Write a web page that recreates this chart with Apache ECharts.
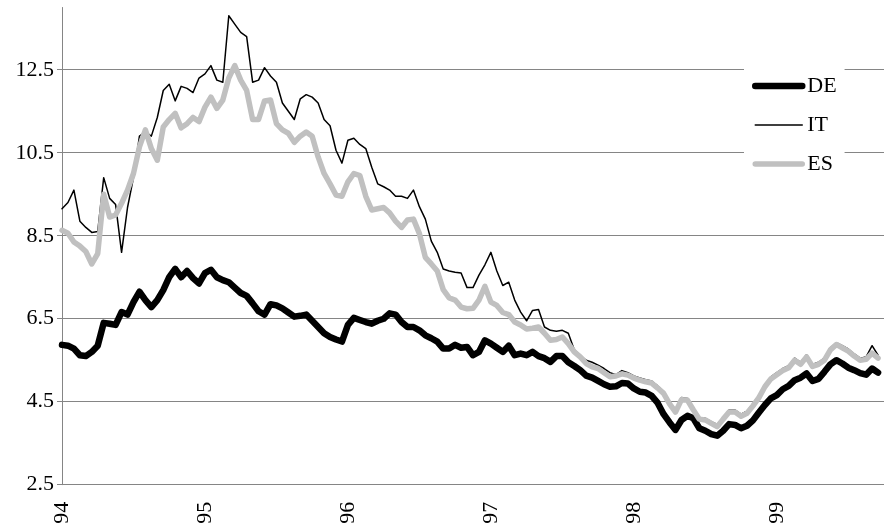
<!DOCTYPE html>
<html>
<head>
<meta charset="utf-8">
<script src="https://cdn.jsdelivr.net/npm/echarts@6/dist/echarts.min.js"></script>
<style>
  html, body { margin: 0; padding: 0; background: #fff; }
  #chart { width: 884px; height: 527px; }
</style>
</head>
<body>
<div id="chart"></div>
<script>
// Ten-year government bond yields (%), sampled twice a month from January 1994
const startYear = 94;
const samplesPerYear = 24;

// Horizontal axis: year labels
const yearTicks = [94, 95, 96, 97, 98, 99];
// Vertical axis: tick values
const yTicks = [2.5, 4.5, 6.5, 8.5, 10.5, 12.5];

const seriesNames = ['DE', 'IT', 'ES'];

const DE = [
  5.87, 5.85, 5.78, 5.62, 5.60, 5.70, 5.85, 6.40, 6.38, 6.35,
  6.66, 6.60, 6.90, 7.15, 6.95, 6.78, 6.95, 7.19, 7.50, 7.70,
  7.50, 7.65, 7.48, 7.35, 7.60, 7.68, 7.50, 7.43, 7.38, 7.25,
  7.12, 7.05, 6.87, 6.68, 6.60, 6.85, 6.82, 6.75, 6.65, 6.55,
  6.57, 6.60, 6.45, 6.30, 6.15, 6.06, 6.00, 5.95, 6.35, 6.52,
  6.47, 6.42, 6.38, 6.45, 6.50, 6.63, 6.60, 6.42, 6.30, 6.30,
  6.22, 6.10, 6.03, 5.95, 5.78, 5.78, 5.87, 5.80, 5.82, 5.62,
  5.70, 5.98, 5.90, 5.80, 5.70, 5.85, 5.62, 5.66, 5.62, 5.70,
  5.60, 5.55, 5.46, 5.60, 5.60, 5.45, 5.36, 5.26, 5.13, 5.08,
  5.00, 4.92, 4.86, 4.87, 4.95, 4.94, 4.82, 4.74, 4.72, 4.64,
  4.47, 4.20, 4.00, 3.82, 4.06, 4.16, 4.10, 3.86, 3.80, 3.72,
  3.68, 3.80, 3.96, 3.94, 3.86, 3.92, 4.05, 4.24, 4.42, 4.58,
  4.66, 4.80, 4.88, 5.02, 5.08, 5.18, 5.00, 5.05, 5.22, 5.40,
  5.50, 5.42, 5.32, 5.26, 5.19, 5.15, 5.30, 5.20
];

const IT = [
  9.15, 9.30, 9.60, 8.85, 8.70, 8.58, 8.60, 9.90, 9.40, 9.25,
  8.10, 9.18, 9.90, 10.90, 11.00, 10.90, 11.35, 12.00, 12.15, 11.75,
  12.10, 12.05, 11.95, 12.30, 12.40, 12.60, 12.25, 12.20, 13.80, 13.60,
  13.40, 13.30, 12.20, 12.25, 12.55, 12.35, 12.20, 11.70, 11.50, 11.30,
  11.80, 11.90, 11.84, 11.70, 11.30, 11.15, 10.56, 10.25, 10.80, 10.85,
  10.70, 10.60, 10.15, 9.75, 9.68, 9.60, 9.45, 9.45, 9.40, 9.60,
  9.20, 8.90, 8.37, 8.10, 7.70, 7.65, 7.62, 7.60, 7.25, 7.25,
  7.55, 7.80, 8.10, 7.65, 7.30, 7.38, 6.95, 6.66, 6.45, 6.70,
  6.72, 6.30, 6.22, 6.20, 6.22, 6.15, 5.75, 5.62, 5.50, 5.45,
  5.38, 5.30, 5.20, 5.15, 5.25, 5.20, 5.12, 5.07, 5.03, 5.00,
  4.88, 4.75, 4.50, 4.30, 4.60, 4.58, 4.35, 4.12, 4.10, 4.02,
  3.95, 4.12, 4.30, 4.30, 4.20, 4.27, 4.45, 4.65, 4.90, 5.10,
  5.20, 5.30, 5.37, 5.55, 5.45, 5.63, 5.40, 5.45, 5.55, 5.80,
  5.92, 5.85, 5.77, 5.65, 5.55, 5.58, 5.85, 5.62
];

const ES = [
  8.63, 8.56, 8.35, 8.25, 8.12, 7.82, 8.07, 9.50, 8.95, 9.00,
  9.28, 9.60, 10.00, 10.64, 11.05, 10.60, 10.32, 11.12, 11.30, 11.45,
  11.10, 11.20, 11.35, 11.25, 11.60, 11.84, 11.57, 11.77, 12.30, 12.60,
  12.25, 12.00, 11.30, 11.30, 11.75, 11.77, 11.20, 11.05, 10.97, 10.75,
  10.90, 11.00, 10.90, 10.40, 10.00, 9.75, 9.48, 9.45, 9.80, 10.00,
  9.95, 9.45, 9.12, 9.15, 9.18, 9.05, 8.85, 8.70, 8.88, 8.90,
  8.55, 7.98, 7.82, 7.65, 7.20, 7.00, 6.95, 6.78, 6.74, 6.75,
  6.95, 7.28, 6.90, 6.82, 6.65, 6.60, 6.42, 6.35, 6.25, 6.27,
  6.30, 6.15, 5.98, 6.00, 6.06, 5.90, 5.70, 5.58, 5.42, 5.34,
  5.30, 5.20, 5.10, 5.12, 5.17, 5.14, 5.07, 5.02, 4.98, 4.95,
  4.83, 4.70, 4.45, 4.25, 4.55, 4.54, 4.30, 4.08, 4.06, 3.98,
  3.90, 4.08, 4.25, 4.25, 4.15, 4.22, 4.40, 4.60, 4.86, 5.05,
  5.15, 5.25, 5.32, 5.50, 5.40, 5.58, 5.35, 5.40, 5.50, 5.75,
  5.88, 5.80, 5.72, 5.60, 5.50, 5.52, 5.67, 5.55
];

const serif = "'Liberation Serif', 'Times New Roman', serif";
const axisGrey = '#858585';

// Pair each yield with its date (fractional year)
function toPoints(values) {
  return values.map((v, i) => [startYear + i / samplesPerYear, v]);
}

const styles = {
  DE: { color: '#000000', width: 6.5 },
  IT: { color: '#000000', width: 1.5 },
  ES: { color: '#c0c0c0', width: 5.5 }
};
const valuesByName = { DE: DE, IT: IT, ES: ES };

const chart = echarts.init(document.getElementById('chart'), null, { renderer: 'canvas' });

chart.setOption({
  animation: false,
  backgroundColor: '#ffffff',
  grid: { left: 62, right: 0, top: 7.5, bottom: 42.3, containLabel: false },
  xAxis: {
    type: 'value',
    min: yearTicks[0],
    max: 99.75,
    interval: 1,
    axisLine: { show: true, onZero: false, lineStyle: { color: axisGrey, width: 1 } },
    axisTick: { show: false },
    splitLine: { show: false },
    axisLabel: {
      rotate: 90,
      margin: 17,
      customValues: yearTicks,
      fontFamily: serif,
      fontSize: 22,
      color: '#000',
      formatter: v => String(v)
    }
  },
  yAxis: {
    type: 'value',
    min: yTicks[0],
    max: 14,
    interval: 2,
    axisLine: { show: true, lineStyle: { color: axisGrey, width: 1 } },
    axisTick: { show: true, length: 5, customValues: yTicks, lineStyle: { color: axisGrey } },
    splitLine: { show: true, lineStyle: { color: axisGrey, width: 1 } },
    axisLabel: {
      margin: 8,
      customValues: yTicks,
      fontFamily: serif,
      fontSize: 22,
      color: '#000',
      formatter: v => v.toFixed(1)
    }
  },
  legend: {
    orient: 'vertical',
    left: 744,
    top: 63,
    backgroundColor: '#ffffff',
    padding: [12, 8, 14, 8],
    itemWidth: 47,
    itemHeight: 14,
    itemGap: 17,
    selectedMode: false,
    textStyle: { fontFamily: serif, fontSize: 22, lineHeight: 20, color: '#000' },
    data: seriesNames.map(n => ({
      name: n,
      itemStyle: { opacity: 0, color: 'rgba(0,0,0,0)', borderWidth: 0 },
      lineStyle: { color: styles[n].color, width: styles[n].width, cap: 'round' }
    }))
  },
  series: seriesNames.map(n => ({
    name: n,
    type: 'line',
    data: toPoints(valuesByName[n]),
    symbol: 'none',
    showSymbol: false,
    silent: true,
    lineStyle: { color: styles[n].color, width: styles[n].width, cap: 'round', join: 'round' },
    itemStyle: { color: styles[n].color }
  }))
});
</script>
</body>
</html>
